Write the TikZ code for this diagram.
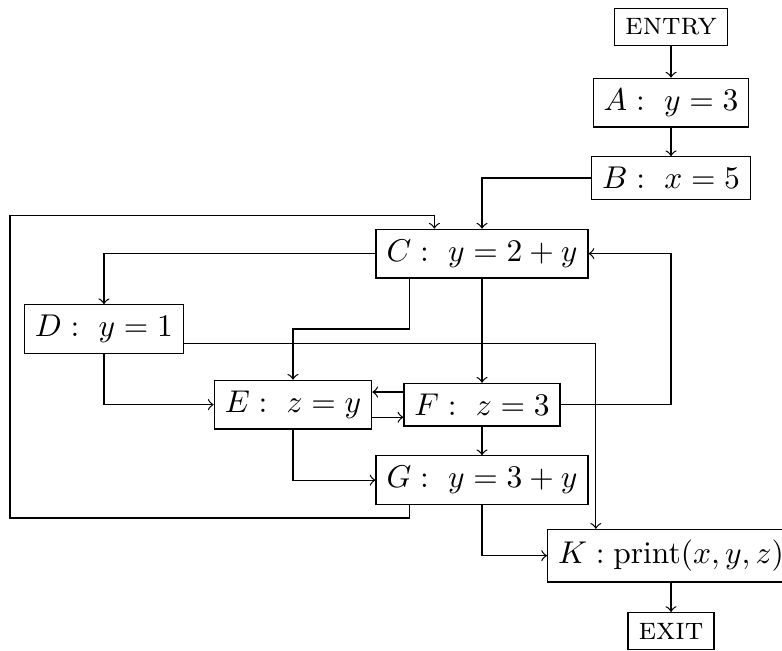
\documentclass[tikz,border=0pt]{standalone}
\usepackage{amsmath, amssymb}
\usepackage{tikz}
\tikzset{
    % basic blocks of the flow graph
    stmt/.style={draw, rectangle},
    % entry and exit blocks
    term/.style={stmt, minimum height=11.7pt},
    % control flow edges
    flow/.style={->}
}

\begin{document}
\begin{tikzpicture}[x=2.11cm, y=0.843cm]
            \useasboundingbox (-0.55,0.358) rectangle (3.587,-8.25);
            \node[term] (entry) at (3, 0) {\textsc{entry}};
            \node[stmt] (A) at (3,-1) {$A:\ y = 3$};
            \node[stmt] (B) at (3,-2) {$B:\ x = 5$};
            \node[stmt] (C) at (2,-3) {$C:\ y = 2 + y$};
            \node[stmt] (D) at (0,-4) {$D:\ y = 1$};
            \node[stmt] (E) at (1,-5) {$E:\ z = y$};
            \node[stmt] (F) at (2,-5) {$F:\ z = 3$};
            \node[stmt] (G) at (2,-6) {$G:\ y = 3 + y$};
            \node[stmt] (K) at (3,-7) {$K: \text{print}(x, y, z)$};
            \node[term] (exit) at (3,-8) {\textsc{exit}};
            % corners of the back edge G -> C
            \coordinate (loopbl) at (-0.497,-6.5);
            \coordinate (looptl) at (-0.497,-2.5);
            \begin{scope}[flow]
                \draw (entry) -- (A);
                \draw (A) -- (B);
                \draw (B.west) -| (C.north);
                \draw (C.west) -| (D.north);
                \draw ([xshift=10.8pt]C.south west) |- (E |- D) -- (E.north);
                \draw (C) -- (F);
                \draw ([yshift=-4.5pt]D.east) -| ([xshift=15.5pt]K.north west);
                \draw (D.south) |- (E.west);
                \draw ([yshift=4pt]F.west) -- ([yshift=4pt]E.east);
                \draw ([yshift=-4pt]E.east) -- ([yshift=-4pt]F.west);
                \draw (F.east) -- (F.east -| A) |- (C.east);
                \draw (E.south) |- (G.west);
                \draw (F) -- (G);
                \draw ([xshift=10.8pt]G.south west) |- (loopbl) -- (looptl)
                    -| ([xshift=18.7pt]C.north west);
                \draw (G.south) |- (K.west);
                \draw (K) -- (exit);
            \end{scope}
        \end{tikzpicture}
\end{document}
